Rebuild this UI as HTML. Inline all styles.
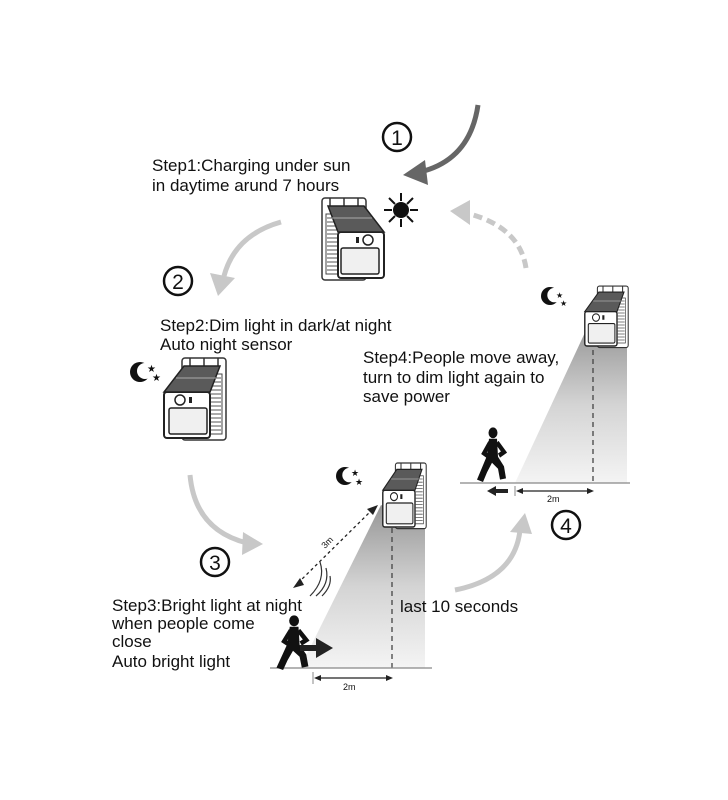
<!DOCTYPE html>
<html><head><meta charset="utf-8"><style>
html,body{margin:0;padding:0;background:#fff;}
svg{display:block;}
text{font-family:"Liberation Sans",sans-serif;fill:#111;}
</style></head><body>
<svg width="728" height="800" viewBox="0 0 728 800" xmlns="http://www.w3.org/2000/svg">
<defs>
<linearGradient id="bm" x1="0" y1="0" x2="0" y2="1">
<stop offset="0" stop-color="#8a8a8a"/><stop offset="0.5" stop-color="#cfcfcf"/><stop offset="1" stop-color="#f3f3f3"/>
</linearGradient>
<g id="dev">
<rect x="22" y="0" width="44" height="82" rx="3" fill="#fff" stroke="#333" stroke-width="1.5"/>
<path d="M30 0 v8 M44 0 v8 M58 0 v8" stroke="#333" stroke-width="1.5"/>
<rect x="50" y="16" width="12" height="60" fill="#fff" stroke="#444"/>
<path d="M51 20h10M51 24h10M51 28h10M51 32h10M51 36h10M51 40h10M51 44h10M51 48h10M51 52h10M51 56h10M51 60h10M51 64h10M51 68h10M51 72h10" stroke="#555" stroke-width="1"/>
<rect x="4" y="34" width="46" height="46" rx="3" fill="#fff" stroke="#222" stroke-width="2"/>
<polygon points="24,8 60,8 50,34 4,34" fill="#5a5a5a" stroke="#222" stroke-width="1.5"/>
<path d="M16 20 L56 20" stroke="#aaa" stroke-width="1"/>
<circle cx="20" cy="42" r="5" fill="#fff" stroke="#222" stroke-width="1.5"/>
<rect x="29" y="39" width="3" height="6" fill="#222"/>
<rect x="9" y="50" width="38" height="26" rx="2" fill="#f0f0f0" stroke="#222" stroke-width="1.5"/>
</g>
<g id="moon">
<circle cx="0" cy="0" r="10" fill="#111"/>
<circle cx="5" cy="-1" r="8" fill="#fff"/>
</g>
<g id="run">
<circle cx="11" cy="4" r="4.5" fill="#111"/>
<path d="M7 9 L15 9 L16 24 L22 32 L24 42 L18 43 L16 34 L10 29 L5 37 L1 45 L-5 43 L1 31 L5 23 Z" fill="#111"/>
<path d="M8 12 L2 21 L7 24 M15 12 L22 20 L17 23" stroke="#111" stroke-width="4" fill="none"/>
</g>
</defs>

<path d="M478 105 Q470 160 420 172" stroke="#666" stroke-width="5" fill="none"/>
<polygon points="403,175 425,160 428,185" fill="#666"/>
<path d="M281 222 Q235 235 224 276" stroke="#c8c8c8" stroke-width="5" fill="none"/>
<polygon points="218,296 210,273 235,278" fill="#c8c8c8"/>
<path d="M190 475 Q195 530 247 543" stroke="#c8c8c8" stroke-width="5" fill="none"/>
<polygon points="263,544 243,532 242,555" fill="#c8c8c8"/>
<path d="M455 590 Q515 578 520 530" stroke="#c8c8c8" stroke-width="5" fill="none"/>
<polygon points="525,513 510,532 532,534" fill="#c8c8c8"/>
<path d="M526 268 Q520 228 470 214" stroke="#c8c8c8" stroke-width="5" fill="none" stroke-dasharray="9,5"/>
<polygon points="450,211 470,200 470,225" fill="#c8c8c8"/>

<g fill="none" stroke="#111" stroke-width="2.5">
<circle cx="397" cy="137" r="14"/><circle cx="178" cy="281" r="14"/>
<circle cx="215" cy="562" r="14"/><circle cx="566" cy="525" r="14"/>
</g>
<g font-size="21" text-anchor="middle">
<text x="397" y="145">1</text><text x="178" y="289">2</text>
<text x="215" y="570">3</text><text x="566" y="533">4</text>
</g>

<use href="#dev" transform="translate(388,198) scale(-1,1)"/>
<circle cx="401" cy="210" r="8" fill="#111"/>
<path d="M401 193v8M401 219v8M384 210h8M410 210h8M389 198l6 6M407 216l6 6M389 222l6-6M407 204l6-6" stroke="#111" stroke-width="2"/>

<use href="#moon" transform="translate(140,372)"/>
<text x="147" y="372" font-size="10">★</text><text x="152" y="381" font-size="10">★</text>
<use href="#dev" transform="translate(160,358)"/>

<polygon points="381,505 425,525 425,668 300,668" fill="url(#bm)" opacity="0.9"/>
<use href="#dev" transform="translate(380,463) scale(0.7,0.8)"/>
<use href="#moon" transform="translate(345,476) scale(0.9)"/>
<text x="351" y="476" font-size="9">★</text><text x="355" y="485" font-size="9">★</text>
<line x1="392" y1="528" x2="392" y2="668" stroke="#444" stroke-width="1.3" stroke-dasharray="5,4"/>
<line x1="270" y1="668" x2="432" y2="668" stroke="#888" stroke-width="1.2"/>
<line x1="298" y1="583" x2="372" y2="510" stroke="#222" stroke-width="1.3" stroke-dasharray="3,3"/>
<polygon points="293,588 300,578 304,585" fill="#222"/><polygon points="378,505 367,509 373,515" fill="#222"/>
<text x="325" y="549" font-size="9" transform="rotate(-45 325 549)">3m</text>
<path d="M322 596 Q332 586 330 576 M316 596 Q330 584 326 568 M310 596 Q326 580 320 562" stroke="#333" stroke-width="1.2" fill="none"/>
<use href="#run" transform="translate(282,616) scale(1.1,1.2)"/>
<rect x="300" y="645" width="18" height="6" fill="#222"/><polygon points="316,638 333,648 316,658" fill="#222"/>
<line x1="313" y1="672" x2="313" y2="684" stroke="#888"/>
<line x1="318" y1="678" x2="390" y2="678" stroke="#222" stroke-width="1.3"/>
<polygon points="314,678 321,675 321,681" fill="#222"/><polygon points="393,678 386,675 386,681" fill="#222"/>
<text x="343" y="690" font-size="9">2m</text>

<polygon points="588,326 627,343 627,483 515,483" fill="url(#bm)" opacity="0.9"/>
<use href="#dev" transform="translate(582,286) scale(0.7,0.75)"/>
<use href="#moon" transform="translate(550,296) scale(0.9)"/>
<text x="556" y="298" font-size="8">★</text><text x="560" y="306" font-size="8">★</text>
<line x1="593" y1="350" x2="593" y2="482" stroke="#444" stroke-width="1.3" stroke-dasharray="5,4"/>
<line x1="460" y1="483" x2="630" y2="483" stroke="#888" stroke-width="1.2"/>
<use href="#run" transform="translate(482,428) scale(1,1.2)"/>
<rect x="494" y="489" width="14" height="4" fill="#222"/><polygon points="487,491 496,486 496,496" fill="#222"/>
<line x1="515" y1="486" x2="515" y2="496" stroke="#888"/>
<line x1="519" y1="491" x2="591" y2="491" stroke="#222" stroke-width="1.3"/>
<polygon points="516,491 523,488 523,494" fill="#222"/><polygon points="594,491 587,488 587,494" fill="#222"/>
<text x="547" y="502" font-size="9">2m</text>

<g font-size="17">
<text x="152" y="171">Step1:Charging under sun</text>
<text x="152" y="191">in daytime arund 7 hours</text>
<text x="160" y="331">Step2:Dim light in dark/at night</text>
<text x="160" y="350">Auto night sensor</text>
<text x="363" y="363">Step4:People move away,</text>
<text x="363" y="383">turn to dim light again to</text>
<text x="363" y="402">save power</text>
<text x="112" y="611">Step3:Bright light at night</text>
<text x="112" y="629">when people come</text>
<text x="112" y="647">close</text>
<text x="112" y="667">Auto bright light</text>
<text x="400" y="612">last 10 seconds</text>
</g>
</svg>
</body></html>
